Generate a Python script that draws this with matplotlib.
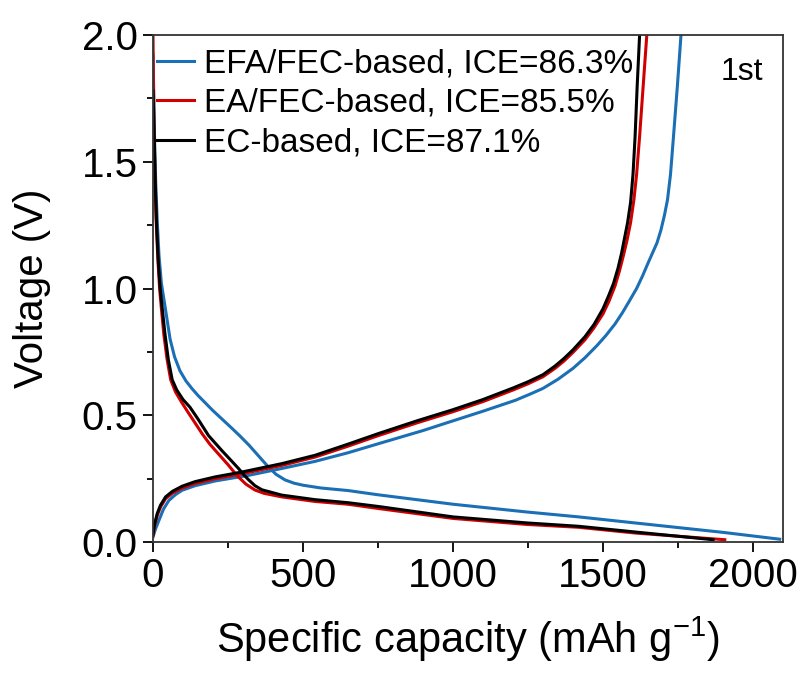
import matplotlib
matplotlib.use("Agg")
import matplotlib.pyplot as plt
from matplotlib.ticker import MultipleLocator

plt.rcParams['font.family'] = ['Liberation Sans', 'DejaVu Sans']
plt.rcParams['mathtext.fontset'] = 'custom'
plt.rcParams['mathtext.rm'] = 'Liberation Sans'

labels = ["EFA/FEC-based, ICE=86.3%", "EA/FEC-based, ICE=85.5%", "EC-based, ICE=87.1%"]
colors = ["#1a6fb5", "#d00000", "#000000"]

# EFA/FEC-based (blue)
efa_dis_x = [0, 2, 5, 9, 14, 20, 28, 40, 57, 72, 90, 110, 130, 150, 175, 200, 230, 260, 290, 320, 350, 380, 410, 440, 470, 500, 560, 650, 752, 1000, 1249, 1419, 1750, 1900, 2089]
efa_dis_v = [1.92, 1.80, 1.60, 1.42, 1.27, 1.13, 1.02, 0.93, 0.80, 0.73, 0.675, 0.635, 0.605, 0.578, 0.548, 0.518, 0.485, 0.452, 0.418, 0.382, 0.342, 0.302, 0.267, 0.245, 0.232, 0.224, 0.213, 0.203, 0.186, 0.149, 0.118, 0.099, 0.057, 0.038, 0.011]
efa_chg_x = [0, 8, 20, 35, 53, 75, 97, 140, 208, 319, 429, 540, 650, 752, 901, 1000, 1100, 1208, 1260, 1300, 1350, 1400, 1440, 1480, 1510, 1540, 1565, 1590, 1612, 1632, 1650, 1665, 1680, 1693, 1705, 1715, 1725, 1735, 1748, 1760]
efa_chg_v = [0.02, 0.05, 0.086, 0.13, 0.164, 0.187, 0.204, 0.222, 0.241, 0.263, 0.29, 0.318, 0.352, 0.388, 0.440, 0.478, 0.516, 0.559, 0.585, 0.606, 0.642, 0.685, 0.727, 0.775, 0.815, 0.86, 0.905, 0.955, 1.0, 1.05, 1.1, 1.14, 1.18, 1.23, 1.29, 1.35, 1.45, 1.6, 1.8, 2.0]

# EA/FEC-based (red)
ea_dis_x = [0, 1, 3, 6, 10, 16, 22, 28, 36, 47, 59, 75, 95, 115, 140, 165, 190, 220, 250, 280, 310, 340, 370, 429, 540, 650, 752, 1000, 1249, 1419, 1611, 1906]
ea_dis_v = [2.0, 1.85, 1.65, 1.45, 1.28, 1.12, 1.00, 0.92, 0.82, 0.72, 0.64, 0.592, 0.552, 0.515, 0.47, 0.425, 0.385, 0.345, 0.305, 0.262, 0.228, 0.205, 0.192, 0.178, 0.160, 0.149, 0.132, 0.093, 0.069, 0.058, 0.035, 0.009]
ea_chg_x = [0, 5, 14, 25, 42, 65, 97, 140, 208, 296, 429, 540, 650, 752, 880, 1000, 1100, 1201, 1250, 1300, 1340, 1370, 1400, 1440, 1470, 1500, 1520, 1540, 1555, 1568, 1580, 1592, 1603, 1612, 1622, 1634, 1646]
ea_chg_v = [0.025, 0.062, 0.104, 0.138, 0.171, 0.193, 0.213, 0.231, 0.250, 0.269, 0.302, 0.335, 0.378, 0.420, 0.470, 0.514, 0.554, 0.600, 0.624, 0.652, 0.685, 0.714, 0.748, 0.798, 0.845, 0.9, 0.95, 1.01, 1.07, 1.13, 1.19, 1.26, 1.35, 1.45, 1.6, 1.8, 2.0]

# EC-based (black)
ec_dis_x = [0, 2, 5, 8, 12, 18, 24, 30, 40, 51, 64, 79, 100, 123, 150, 185, 230, 260, 285, 305, 319, 340, 363, 429, 540, 650, 752, 1000, 1249, 1419, 1611, 1867]
ec_dis_v = [1.78, 1.70, 1.55, 1.40, 1.25, 1.10, 1.00, 0.93, 0.82, 0.72, 0.64, 0.60, 0.562, 0.532, 0.485, 0.42, 0.36, 0.322, 0.29, 0.262, 0.245, 0.222, 0.206, 0.185, 0.167, 0.155, 0.140, 0.099, 0.075, 0.062, 0.039, 0.009]
ec_chg_x = [0, 5, 14, 25, 42, 65, 97, 140, 208, 296, 429, 540, 650, 752, 880, 1000, 1100, 1201, 1250, 1300, 1340, 1370, 1400, 1440, 1470, 1500, 1520, 1535, 1550, 1562, 1572, 1582, 1592, 1600, 1607, 1614, 1622]
ec_chg_v = [0.03, 0.07, 0.112, 0.145, 0.178, 0.20, 0.22, 0.238, 0.257, 0.276, 0.309, 0.342, 0.386, 0.428, 0.478, 0.522, 0.562, 0.608, 0.632, 0.660, 0.694, 0.724, 0.758, 0.81, 0.858, 0.92, 0.975, 1.02, 1.08, 1.14, 1.2, 1.26, 1.34, 1.45, 1.6, 1.8, 2.0]

series = [
    (efa_dis_x, efa_dis_v, efa_chg_x, efa_chg_v),
    (ea_dis_x, ea_dis_v, ea_chg_x, ea_chg_v),
    (ec_dis_x, ec_dis_v, ec_chg_x, ec_chg_v),
]

fig = plt.figure(figsize=(8.05, 6.77), dpi=100)
ax = fig.add_axes([153/805, 1 - 542/677, 630/805, 507/677])

for (dx, dv, cx, cv), lab, col in zip(series, labels, colors):
    ax.plot(dx, dv, color=col, lw=2.2, label=lab, solid_joinstyle='round')
    ax.plot(cx, cv, color=col, lw=2.2, solid_joinstyle='round')

ax.set_xlim(0, 2100)
ax.set_ylim(0, 2.0)
ax.xaxis.set_major_locator(MultipleLocator(500))
ax.xaxis.set_minor_locator(MultipleLocator(250))
ax.yaxis.set_major_locator(MultipleLocator(0.5))
ax.yaxis.set_minor_locator(MultipleLocator(0.25))
ax.yaxis.set_major_formatter(plt.FuncFormatter(lambda v, p: f"{v:.1f}"))
ax.tick_params(which='both', direction='out', top=False, right=False, width=1.3)
ax.tick_params(which='major', length=7, labelsize=29, pad=4)
ax.tick_params(which='minor', length=4)
for s in ax.spines.values():
    s.set_linewidth(1.3)
    s.set_color('#333333')

ax.set_xlabel(r"Specific capacity (mAh g$^{\mathregular{-1}}$)", fontsize=30, labelpad=14)
ax.set_ylabel("Voltage (V)", fontsize=29, labelpad=22)

ax.legend(loc='upper left', bbox_to_anchor=(-0.02, 1.006), frameon=False, fontsize=24,
          handlelength=1.1, handletextpad=0.3, labelspacing=0.25, borderaxespad=0.2,
          borderpad=0.3)
ax.text(0.968, 0.927, "1st", transform=ax.transAxes, fontsize=23, ha='right', va='center')

fig.savefig("out.png", dpi=100)
